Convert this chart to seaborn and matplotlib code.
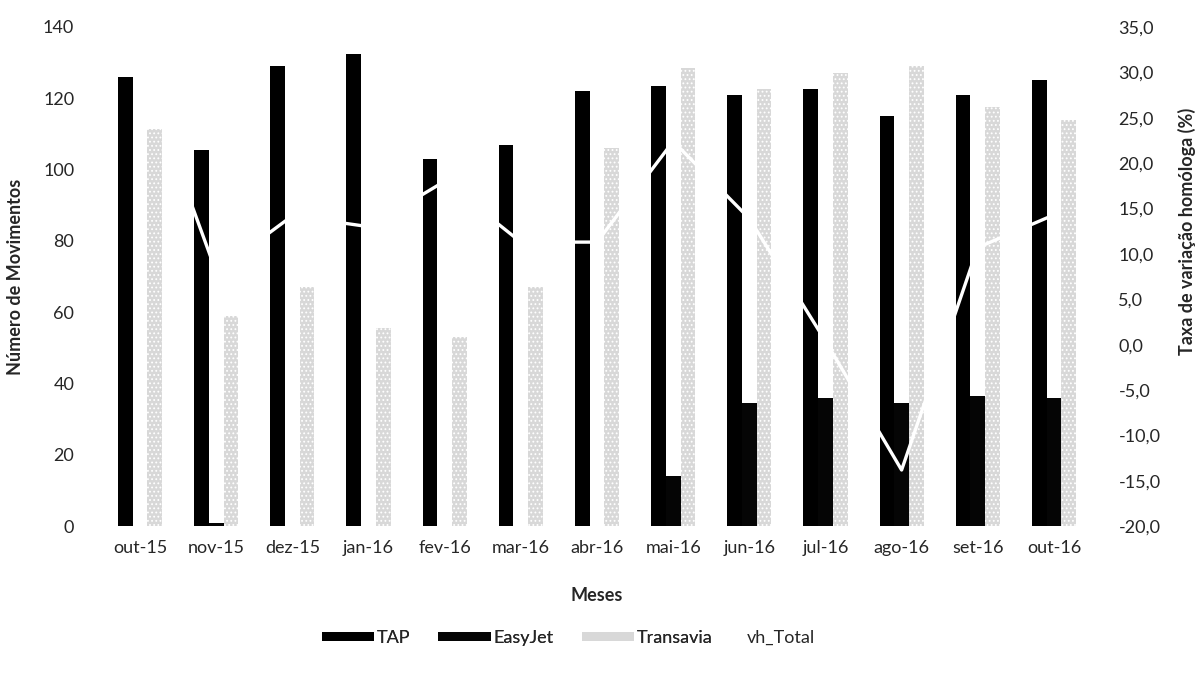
import numpy as np
import pandas as pd
import matplotlib
matplotlib.use("Agg")
import matplotlib.pyplot as plt
import seaborn as sns
from matplotlib.patches import Patch
from matplotlib.lines import Line2D
from matplotlib.ticker import FuncFormatter

meses = ["out-15", "nov-15", "dez-15", "jan-16", "fev-16", "mar-16", "abr-16",
         "mai-16", "jun-16", "jul-16", "ago-16", "set-16", "out-16"]
tap = [126, 105.5, 129, 132.5, 103, 107, 122, 123.5, 121, 122.5, 115, 121, 125]
easyjet = [0, 1, 0, 0, 0, 0, 0, 14, 34.5, 36, 34.5, 36.5, 36]
transavia = [111.5, 59, 67, 55.5, 53, 67, 106, 128.5, 122.5, 127, 129, 117.5, 114]
vh_total = [31.0, 8.0, 14.2, 13.0, 18.0, 11.3, 11.3, 22.4, 13.9, 0.4, -13.8, 10.7, 14.3]

series = ["TAP", "EasyJet", "Transavia"]

df = pd.DataFrame({
    "Mes": meses * 3,
    "Movimentos": tap + easyjet + transavia,
    "Companhia": [s for s in series for _ in meses],
})

sns.set_theme(style="white")
plt.rcParams["font.family"] = ["Lato", "DejaVu Sans"]
plt.rcParams["hatch.color"] = "#8a8a8a"
plt.rcParams["hatch.linewidth"] = 0.8

fig = plt.figure(figsize=(12, 6.73), dpi=100)
ax = fig.add_axes([0.085, 0.218, 0.825, 0.742])

colors = {"TAP": "#000000", "EasyJet": "#050505", "Transavia": "#d8d8d8"}
sns.barplot(data=df, x="Mes", y="Movimentos", hue="Companhia", order=meses,
            hue_order=series, palette=colors, width=0.58, gap=0,
            saturation=1, ax=ax, legend=False, linewidth=0)

# stipple the Transavia bars
n = len(meses)
for p in ax.patches[2 * n:3 * n]:
    p.set_hatch("....")

ax.set_ylim(0, 140)
ax.set_yticks(np.arange(0, 141, 20))
ax.set_xlim(-0.5, n - 0.5)
ax.set_xlabel("Meses", fontsize=13, fontweight="bold", labelpad=22)
ax.set_ylabel("Número de Movimentos", fontsize=13, fontweight="bold", labelpad=14)
ax.tick_params(axis="x", labelsize=13, length=0, pad=10)
ax.tick_params(axis="y", labelsize=13, length=0, pad=20)
for s in ax.spines.values():
    s.set_visible(False)

ax2 = ax.twinx()
sns.lineplot(x=np.arange(n), y=vh_total, ax=ax2, color="white", linewidth=2.4,
             legend=False)
ax2.set_xlim(-0.5, n - 0.5)
ax2.set_ylim(-20, 35)
ax2.set_yticks(np.arange(-20, 36, 5))
ax2.yaxis.set_major_formatter(FuncFormatter(lambda v, p: f"{v:.1f}".replace(".", ",")))
ax2.tick_params(axis="y", labelsize=13, length=0, pad=19)
ax2.set_ylabel("Taxa de variação homóloga (%)", fontsize=13, fontweight="bold",
               rotation=90)
ax2.yaxis.set_label_coords(1.087, 0.59)
for s in ax2.spines.values():
    s.set_visible(False)

bar_handles = [
    Patch(facecolor="black", edgecolor="none", label="TAP"),
    Patch(facecolor="#050505", edgecolor="none", label="EasyJet"),
    Patch(facecolor="#d8d8d8", edgecolor="none", hatch="....", label="Transavia"),
]
leg1 = fig.legend(handles=bar_handles, loc="center", bbox_to_anchor=(0.431, 0.052),
                  ncol=3, frameon=False, fontsize=13, handlelength=2.9,
                  handleheight=0.4, columnspacing=1.55, handletextpad=0.15)
line_handle = [Line2D([0], [0], color="white", linewidth=2.4, label="vh_Total")]
leg2 = fig.legend(handles=line_handle, loc="center", bbox_to_anchor=(0.642, 0.052),
                  frameon=False, fontsize=13, handlelength=1.0, handletextpad=0.2)
fig.add_artist(leg1)

fig.savefig("out.png", dpi=100, facecolor="white")
